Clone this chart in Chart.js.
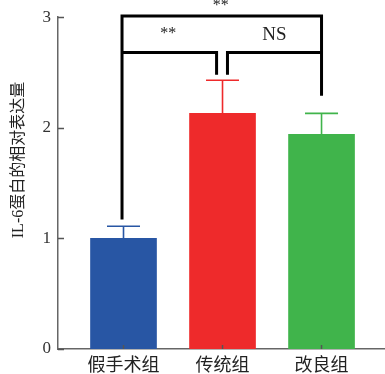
<!DOCTYPE html>
<html>
<head>
<meta charset="utf-8">
<script src="https://cdn.jsdelivr.net/npm/chart.js@4/dist/chart.umd.min.js"></script>
<style>
  html, body { margin: 0; padding: 0; background: #fff; }
  #wrap { width: 385px; height: 374px; position: relative; }
</style>
</head>
<body>
<div id="wrap"><canvas id="c"></canvas></div>
<script>
// Groups and measured IL-6 relative expression (mean and upper error)
const categories = ['假手术组', '传统组', '改良组'];
const means = [1.0, 2.13, 1.94];
const errors = [0.11, 0.30, 0.19];
const barColors = ['#2856a4', '#ee2a2b', '#40b44b'];
const yTicks = [0, 1, 2, 3];
const yTitle = 'IL-6蛋白的相对表达量';

// Significance brackets: [x positions], [y positions] in data units, and their labels
const bracketX = [-0.015, 0.94, 1.05, 2.0];
const bracketY = { top: 3.01, mid: 2.68, legMid: 2.48, legRight: 2.29, legLeft: 1.17 };
const sigLabels = ['**', '**', 'NS'];

const serif = '"Liberation Serif", "Noto Sans CJK SC", serif';
const cjk = '"Noto Sans CJK SC", "Liberation Serif", serif';

const errorBars = {
  id: 'errorBars',
  afterDatasetsDraw(chart) {
    const { ctx, scales: { x, y } } = chart;
    ctx.save();
    means.forEach((m, i) => {
      const px = x.getPixelForValue(i);
      const top = y.getPixelForValue(m);
      const end = y.getPixelForValue(m + errors[i]);
      ctx.strokeStyle = barColors[i];
      ctx.lineWidth = 1.6;
      ctx.beginPath();
      ctx.moveTo(px, top);
      ctx.lineTo(px, end);
      ctx.moveTo(px - 16.5, end);
      ctx.lineTo(px + 16.5, end);
      ctx.stroke();
    });
    ctx.restore();
  }
};

const brackets = {
  id: 'brackets',
  afterDraw(chart) {
    const { ctx, scales: { x, y } } = chart;
    const X = bracketX.map(v => x.getPixelForValue(v));
    const Y = v => y.getPixelForValue(v);
    ctx.save();
    ctx.strokeStyle = '#000';
    ctx.lineWidth = 3;
    ctx.lineCap = 'butt';
    ctx.lineJoin = 'miter';
    // outer bracket: sham vs improved
    ctx.beginPath();
    ctx.moveTo(X[0], Y(bracketY.legLeft));
    ctx.lineTo(X[0], Y(bracketY.top));
    ctx.lineTo(X[3], Y(bracketY.top));
    ctx.lineTo(X[3], Y(bracketY.legRight));
    ctx.stroke();
    // sham vs traditional
    ctx.beginPath();
    ctx.moveTo(X[0], Y(bracketY.mid));
    ctx.lineTo(X[1], Y(bracketY.mid));
    ctx.lineTo(X[1], Y(bracketY.legMid));
    ctx.stroke();
    // traditional vs improved
    ctx.beginPath();
    ctx.moveTo(X[2], Y(bracketY.legMid));
    ctx.lineTo(X[2], Y(bracketY.mid));
    ctx.lineTo(X[3], Y(bracketY.mid));
    ctx.stroke();

    ctx.fillStyle = '#222';
    ctx.textAlign = 'center';
    ctx.textBaseline = 'alphabetic';
    ctx.font = '16px ' + serif;
    ctx.fillText(sigLabels[0], (X[0] + X[3]) / 2 - 1, 10);
    ctx.fillText(sigLabels[1], (X[0] + X[1]) / 2 - 1, 38);
    ctx.font = '19px ' + serif;
    ctx.fillText(sigLabels[2], (X[2] + X[3]) / 2, 39.5);
    ctx.restore();
  }
};

const axisDecor = {
  id: 'axisDecor',
  afterDraw(chart) {
    const { ctx, scales: { x, y }, chartArea } = chart;
    ctx.save();
    // inward tick marks
    ctx.strokeStyle = '#555';
    ctx.lineWidth = 1.5;
    ctx.beginPath();
    yTicks.forEach(v => {
      const py = Math.round(y.getPixelForValue(v)) + 0.5;
      ctx.moveTo(chartArea.left, py);
      ctx.lineTo(chartArea.left + 6, py);
    });
    categories.forEach((c, i) => {
      const px = x.getPixelForValue(i);
      ctx.moveTo(px, chartArea.bottom);
      ctx.lineTo(px, chartArea.bottom - 4);
    });
    ctx.stroke();
    // rotated y-axis title
    ctx.fillStyle = '#222';
    ctx.font = '16px ' + serif;
    ctx.textAlign = 'center';
    ctx.textBaseline = 'middle';
    ctx.translate(19, 160);
    ctx.rotate(-Math.PI / 2);
    ctx.fillText(yTitle, 0, 0);
    ctx.restore();
  }
};

new Chart(document.getElementById('c'), {
  type: 'bar',
  data: {
    datasets: [{
      data: means.map((m, i) => ({ x: i, y: m })),
      backgroundColor: barColors,
      borderWidth: 0,
      barThickness: 66
    }]
  },
  options: {
    responsive: true,
    maintainAspectRatio: false,
    animation: false,
    layout: { padding: { top: 16, right: 0, left: 0, bottom: 0 } },
    plugins: { legend: { display: false }, tooltip: { enabled: false } },
    scales: {
      x: {
        type: 'linear',
        offset: false,
        min: -0.6616,
        max: 2.641,
        afterBuildTicks: s => { s.ticks = categories.map((c, i) => ({ value: i })); },
        afterFit: s => { s.height = 25; },
        grid: { display: false, drawTicks: false, offset: false },
        border: { display: true, color: '#666', width: 1.5 },
        ticks: {
          padding: 4,
          autoSkip: false,
          maxRotation: 0,
          color: '#222',
          font: { family: cjk, size: 18 },
          callback: v => categories[v] ?? ''
        }
      },
      y: {
        min: 0,
        max: 3,
        afterBuildTicks: s => { s.ticks = yTicks.map(v => ({ value: v })); },
        afterFit: s => { s.width = 58; },
        grid: { display: false, drawTicks: false },
        border: { display: true, color: '#666', width: 1.5 },
        ticks: {
          padding: 7,
          color: '#333',
          font: { family: serif, size: 17 }
        }
      }
    }
  },
  plugins: [errorBars, brackets, axisDecor]
});
</script>
</body>
</html>
